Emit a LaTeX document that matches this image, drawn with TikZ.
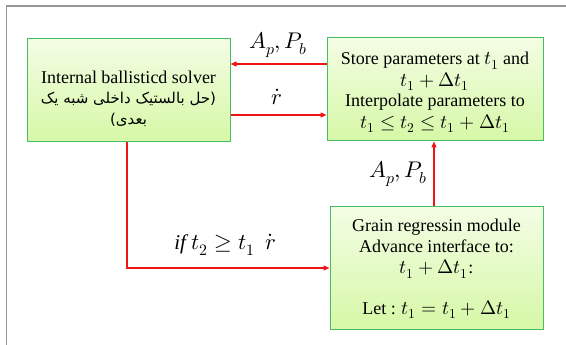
\documentclass[tikz,border=0pt]{standalone}
\usepackage{unicode-math}
\setmainfont{Liberation Serif}
\setmathfont{Latin Modern Math}[Scale=1.08]
\newfontfamily\arabicfont[Script=Arabic]{DejaVu Sans}
\TeXXeTstate=1
\usetikzlibrary{arrows.meta,calc}
\definecolor{boxtop}{RGB}{243,253,228}
\definecolor{boxbot}{RGB}{214,248,166}
\definecolor{boxline}{RGB}{70,190,100}
\definecolor{arrred}{RGB}{240,20,20}
\definecolor{framegray}{RGB}{150,150,150}
\newcommand{\arw}[1]{{\arabicfont\fontsize{15}{20}\selectfont\beginR #1\endR}}
\begin{document}
\begin{tikzpicture}[x=1pt,y=1pt,
  box/.style={draw=boxline, line width=1pt, top color=boxtop, bottom color=boxbot, inner sep=0pt},
  txt/.style={align=center, inner sep=0pt, font=\fontsize{18}{20.5}\selectfont},
  arr/.style={draw=arrred, line width=1.3pt, -{Triangle[length=6pt,width=5pt]}},
  lbl/.style={font=\fontsize{21}{24}\selectfont, inner sep=0pt}]
\useasboundingbox (0,0) rectangle (566,-345);
\draw[framegray, line width=1.2pt] (6.5,-345) -- (6.5,-6) -- (566,-6);
\node[box, minimum width=203pt, minimum height=103pt] (ib) at (128.5,-90.5) {};
\node[txt] (ibt) at ($(ib.center)+(0,-8)$)
  {Internal ballisticd solver\\
   \arw{(حل بالستیک داخلی شبه یک}\\
   \arw{بعدی)}};
\node[box, minimum width=216pt, minimum height=103pt] (tr) at (435,-89.5) {};
\node[txt] (trt) at ($(tr.center)+(0,-3)$)
  {Store parameters at $t_1$ and\\[1pt]
   $t_1+\Delta t_1$\\
   Interpolate parameters to\\[1pt]
   $t_1\le t_2\le t_1+\Delta t_1$};
\node[box, minimum width=213pt, minimum height=122pt] (gr) at (436.5,-268) {};
\node[txt] (grt) at ($(gr.center)+(0,-1)$)
  {Grain regressin module\\
   Advance interface to:\\[1pt]
   $t_1+\Delta t_1$:\\[20pt]
   Let : $t_1=t_1+\Delta t_1$};
\draw[arr] ([yshift=25.5pt]tr.west) -- ([yshift=25.5pt]tr.west -| ib.east);
\draw[arr] ([yshift=-24.5pt]ib.east) -- ([yshift=-24.5pt]ib.east -| tr.west);
\draw[arr] ([xshift=-2.5pt]gr.north) -- ([xshift=-2.5pt]gr.north |- tr.south);
\draw[arr] ([xshift=-1.5pt]ib.south) |- (gr.west);
\node[lbl] (l1) at (278,-45) {$A_p, P_b$};
\node[lbl] (l2) at (277,-97) {$\dot r$};
\node[lbl] (l3) at (398,-174) {$A_p, P_b$};
\node[lbl] (l4) at (225,-245) {$\mathit{if}\ t_2\ge t_1\ \ \dot r$};
\end{tikzpicture}
\end{document}
